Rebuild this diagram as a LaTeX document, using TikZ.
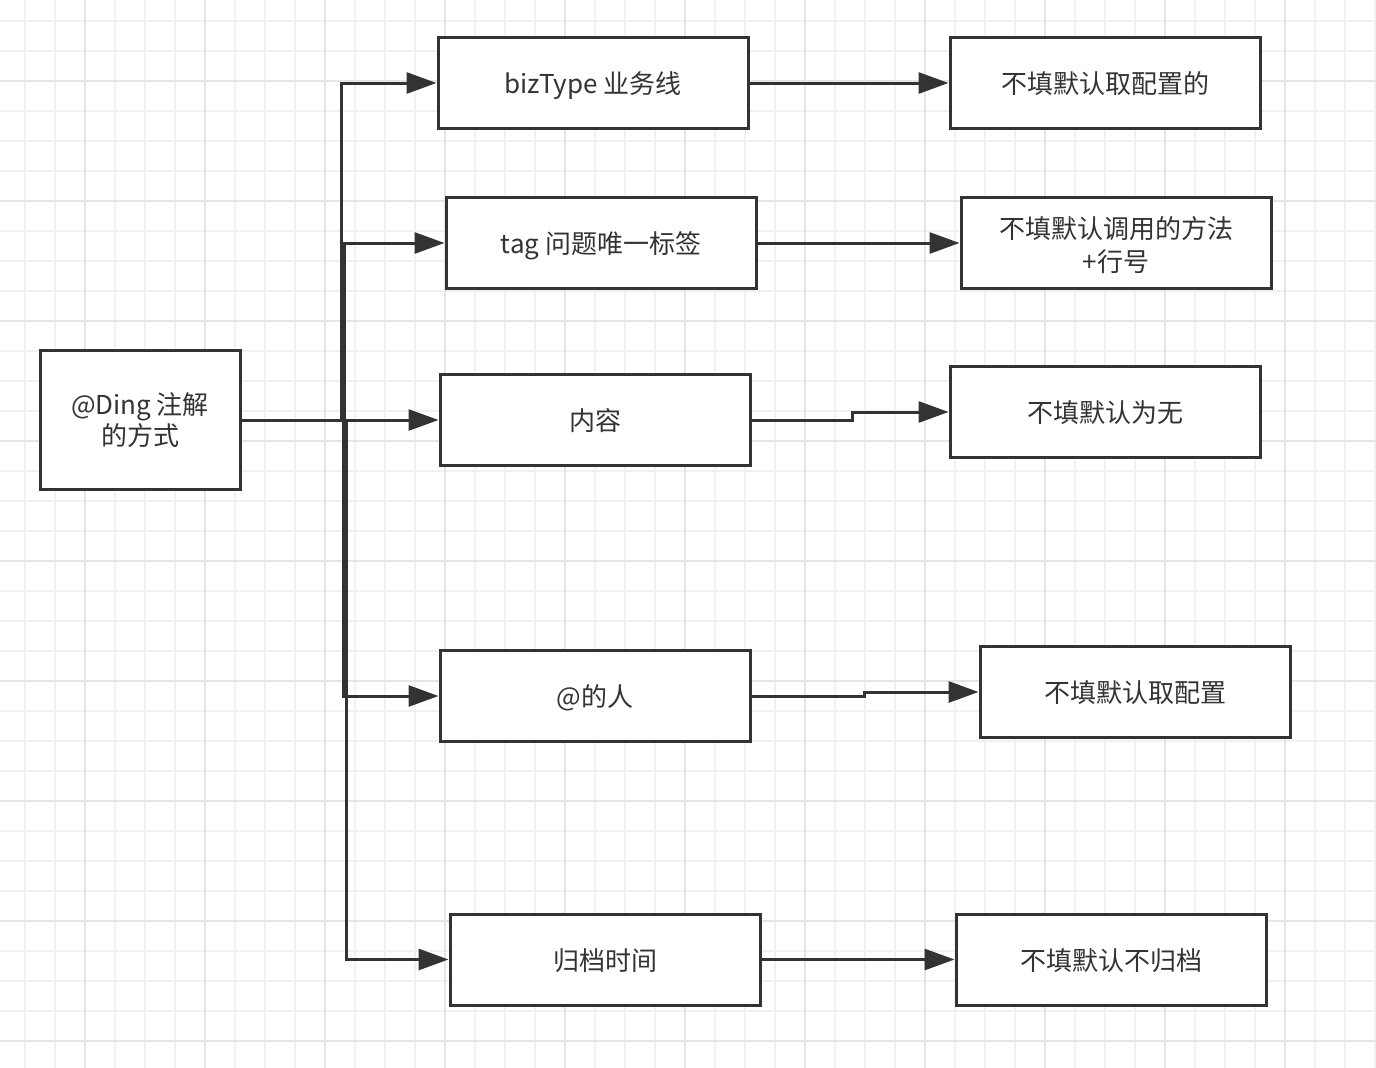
\documentclass[tikz,border=0pt]{standalone}
\usepackage{fontspec}
\setmainfont{Noto Sans CJK SC}
\usetikzlibrary{arrows.meta}
\definecolor{ink}{HTML}{333333}
\definecolor{gridminor}{HTML}{F1F1F1}
\definecolor{gridmajor}{HTML}{E5E5E5}
\newcommand{\boxstrut}{\rule[-6pt]{0pt}{33pt}}
\begin{document}
\begin{tikzpicture}[x=1pt,y=-1pt,
  box/.style={draw=ink,line width=3pt,fill=white,text=ink,align=center,
    minimum width=310pt,minimum height=91pt,inner sep=0pt,
    font=\fontsize{26}{33}\selectfont},
  oneline/.style={execute at begin node=\boxstrut},
  conn/.style={draw=ink,line width=3pt,-{Triangle[length=30pt,width=21pt]}}]
\useasboundingbox (0,0) rectangle (1376,1068);
\fill[white] (0,0) rectangle (1376,1068);
% grid
\foreach \x in {25,55,...,1375} \draw[gridminor,line width=2pt] (\x,0) -- (\x,1068);
\foreach \y in {20.5,50.5,...,1068} \draw[gridminor,line width=2pt] (0,\y) -- (1376,\y);
\foreach \x in {85,205,...,1375} \draw[gridmajor,line width=2pt] (\x,0) -- (\x,1068);
\foreach \y in {80.5,200.5,...,1068} \draw[gridmajor,line width=2pt] (0,\y) -- (1376,\y);
% nodes
\node[box,minimum width=200pt,minimum height=139pt] (left) at (140,420)
  {\raisebox{-3.5pt}[\height][\depth]{\begin{tabular}{@{}c@{}}@Ding 注解\\[-2pt]的方式\end{tabular}}};
\node[box,oneline] (b1) at (593,83) {bizType 业务线};
\node[box,oneline] (b2) at (601,243) {tag 问题唯一标签};
\node[box,oneline] (b3) at (595,420) {内容};
\node[box,oneline] (b4) at (595,696) {@的人};
\node[box,oneline] (b5) at (605,959.5) {归档时间};
\node[box,oneline] (r1) at (1105,83) {不填默认取配置的};
\node[box] (r2) at (1116,243)
  {\raisebox{-5.5pt}[\height][\depth]{\begin{tabular}{@{}c@{}}不填默认调用的方法\\+行号\end{tabular}}};
\node[box,oneline] (r3) at (1105,412) {不填默认为无};
\node[box,oneline] (r4) at (1135,692) {不填默认取配置};
\node[box,oneline] (r5) at (1111,959.5) {不填默认不归档};
% connectors from left
\draw[conn] (left.east) -- ++(100,0) |- (b1.west);
\draw[conn] (left.east) -- ++(103,0) |- (b2.west);
\draw[conn] (left.east) -- (b3.west);
\draw[conn] (left.east) -- ++(102,0) |- (b4.west);
\draw[conn] (left.east) -- ++(105,0) |- (b5.west);
% connectors to right
\draw[conn] (b1.east) -- (r1.west);
\draw[conn] (b2.east) -- (r2.west);
\draw[conn] (b3.east) -- ++(101,0) |- (r3.west);
\draw[conn] (b4.east) -- ++(113,0) |- (r4.west);
\draw[conn] (b5.east) -- (r5.west);
\end{tikzpicture}
\end{document}
